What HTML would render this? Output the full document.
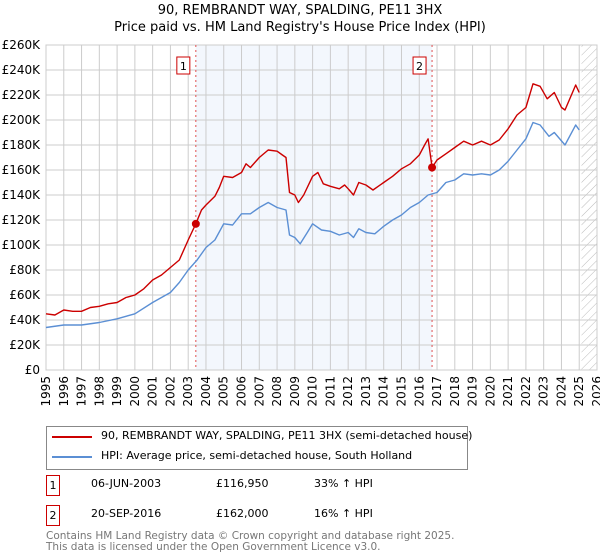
<!DOCTYPE html>
<html><head><meta charset="utf-8">
<style>
body{margin:0;background:#fff;font-family:"DejaVu Sans","Liberation Sans",sans-serif;}
#wrap{position:relative;width:600px;height:560px;overflow:hidden;}
.t{position:absolute;font-size:11px;color:#000;white-space:nowrap;}
</style></head>
<body><div id="wrap">
<svg id="svg" width="600" height="560" style="position:absolute;left:0;top:0;font-family:'DejaVu Sans',sans-serif"></svg>
</div>
<script>
const priceYears=[1995,1995.5,1996,1996.5,1997,1997.5,1998,1998.5,1999,1999.5,2000,2000.5,2001,2001.5,2002,2002.5,2003,2003.43,2003.75,2004,2004.5,2004.75,2005,2005.5,2006,2006.25,2006.5,2007,2007.5,2008,2008.3,2008.5,2008.7,2009,2009.2,2009.5,2010,2010.3,2010.6,2011,2011.5,2011.8,2012,2012.3,2012.6,2013,2013.4,2014,2014.5,2015,2015.5,2016,2016.3,2016.5,2016.72,2017,2017.5,2018,2018.5,2019,2019.5,2020,2020.5,2021,2021.5,2022,2022.4,2022.8,2023.2,2023.6,2024,2024.2,2024.8,2025];
const priceValues=[45,44,48,47,47,50,51,53,54,58,60,65,72,76,82,88,104,117,128,132,139,146,155,154,158,165,162,170,176,175,172,170,142,140,134,140,155,158,149,147,145,148,145,140,150,148,144,150,155,161,165,172,180,185,162,168,173,178,183,180,183,180,184,193,204,210,229,227,217,222,210,208,228,222];
const hpiYears=[1995,1996,1997,1998,1999,2000,2001,2001.5,2002,2002.5,2003,2003.5,2004,2004.5,2005,2005.5,2006,2006.5,2007,2007.5,2008,2008.5,2008.7,2009,2009.3,2009.7,2010,2010.5,2011,2011.5,2012,2012.3,2012.6,2013,2013.5,2014,2014.5,2015,2015.5,2016,2016.5,2017,2017.5,2018,2018.5,2019,2019.5,2020,2020.5,2021,2021.5,2022,2022.4,2022.8,2023.3,2023.6,2024.2,2024.8,2025];
const hpiValues=[34,36,36,38,41,45,54,58,62,70,80,88,98,104,117,116,125,125,130,134,130,128,108,106,101,110,117,112,111,108,110,106,113,110,109,115,120,124,130,134,140,142,150,152,157,156,157,156,160,167,176,185,198,196,187,190,180,196,192];
const yTicks=[0,20,40,60,80,100,120,140,160,180,200,220,240,260];
const xTicks=[1995,1996,1997,1998,1999,2000,2001,2002,2003,2004,2005,2006,2007,2008,2009,2010,2011,2012,2013,2014,2015,2016,2017,2018,2019,2020,2021,2022,2023,2024,2025,2026];
const saleYears=[2003.43,2016.72];
const saleValues=[116.95,162];
const saleLabels=["1","2"];

const L=46,R=597,T=45,B=370;
const x=v=>L+(v-1995)/(2026-1995)*(R-L);
const y=v=>B-v/260*(B-T);
const svg=document.getElementById('svg');
const NS='http://www.w3.org/2000/svg';
function mk(tag,a,parent){const e=document.createElementNS(NS,tag);for(const k in a)e.setAttribute(k,a[k]);(parent||svg).appendChild(e);return e;}

let defs=mk('defs',{});
let pat=mk('pattern',{id:'hatch',width:6,height:6,patternUnits:'userSpaceOnUse',patternTransform:'rotate(45)'},defs);
mk('line',{x1:0,y1:0,x2:0,y2:6,stroke:'#bbb','stroke-width':1},pat);

let shade=mk('rect',{x:x(saleYears[0]),y:T,width:x(saleYears[1])-x(saleYears[0]),height:B-T,fill:'#eef3fc',opacity:0.7});


let hat=mk('rect',{x:x(2025.13),y:T,width:R-x(2025.13),height:B-T,fill:'url(#hatch)'});



yTicks.forEach(v=>{
  let g=mk('line',{x1:L,x2:R,y1:y(v),y2:y(v),stroke:'#ccc','stroke-width':1});
  
  
  let t=mk('text',{x:L-6,y:y(v)+4,'text-anchor':'end','font-size':12,fill:'#000'});
  t.textContent='£'+(v===0?'0':v+'K');
  
  
});
xTicks.forEach(v=>{
  let g=mk('line',{x1:x(v),x2:x(v),y1:T,y2:B,stroke:'#ccc','stroke-width':1});
  
  
  let t=mk('text',{x:0,y:0,'text-anchor':'end','font-size':12,fill:'#000',transform:`translate(${x(v)+4},${B+6}) rotate(-90)`});
  t.textContent=v;
  
  
});
let frame=mk('rect',{x:L,y:T,width:R-L,height:B-T,fill:'none',stroke:'#ccc'});



saleYears.forEach((v,i)=>{
  let l=mk('line',{x1:x(v),x2:x(v),y1:T,y2:B,stroke:'#e05050','stroke-width':1,'stroke-dasharray':'2,3'});
  
  
  let bx=mk('rect',{x:x(v)-19,y:57,width:13,height:17,fill:'#fff',stroke:'#cc0000'});
  
  
  let t=mk('text',{x:x(v)-12.5,y:70,'text-anchor':'middle','font-size':11,fill:'#000'});
  t.textContent=saleLabels[i];
  
  
});

function line(xs,vs,color,name){
  const d=xs.map((v,i)=>(i?'L':'M')+x(v).toFixed(1)+','+y(vs[i]).toFixed(1)).join('');
  let p=mk('path',{d:d,fill:'none',stroke:color,'stroke-width':1.4,'stroke-linejoin':'round'});
  
  
}
line(hpiYears,hpiValues,'#5b8fd4','hpi-line');
line(priceYears,priceValues,'#cc0000','price-paid-line');
saleYears.forEach((v,i)=>{
  let c=mk('circle',{cx:x(v),cy:y(saleValues[i]),r:4,fill:'#cc0000'});
  
  
});
</script>
<div class="t" style="left:0;width:600px;text-align:center;top:3px;font-size:13px">90, REMBRANDT WAY, SPALDING, PE11 3HX</div>
<div class="t" style="left:0;width:600px;text-align:center;top:20px;font-size:13px">Price paid vs. HM Land Registry's House Price Index (HPI)</div>
<div style="position:absolute;left:46px;top:426px;width:420px;height:42px;border:1px solid #888;">
  <div style="position:absolute;left:5px;top:9px;width:40px;height:2px;background:#cc0000"></div>
  <div class="t" style="left:54px;top:2px">90, REMBRANDT WAY, SPALDING, PE11 3HX (semi-detached house)</div>
  <div style="position:absolute;left:5px;top:29px;width:40px;height:2px;background:#5b8fd4"></div>
  <div class="t" style="left:54px;top:22px">HPI: Average price, semi-detached house, South Holland</div>
</div>
<div>
<div class="t" style="left:46px;top:475px;width:12px;height:19px;border:1px solid #cc0000;text-align:center;line-height:19px">1</div>
<div class="t" style="left:91px;top:477px">06-JUN-2003</div>
<div class="t" style="left:216px;top:477px">£116,950</div>
<div class="t" style="left:314px;top:477px">33% ↑ HPI</div>
</div>
<div>
<div class="t" style="left:46px;top:505px;width:12px;height:19px;border:1px solid #cc0000;text-align:center;line-height:19px">2</div>
<div class="t" style="left:91px;top:507px">20-SEP-2016</div>
<div class="t" style="left:216px;top:507px">£162,000</div>
<div class="t" style="left:314px;top:507px">16% ↑ HPI</div>
</div>
<div class="t" style="left:46px;top:531px;color:#777;line-height:11px;font-size:10.5px">Contains HM Land Registry data © Crown copyright and database right 2025.<br>This data is licensed under the Open Government Licence v3.0.</div>
</body></html>
